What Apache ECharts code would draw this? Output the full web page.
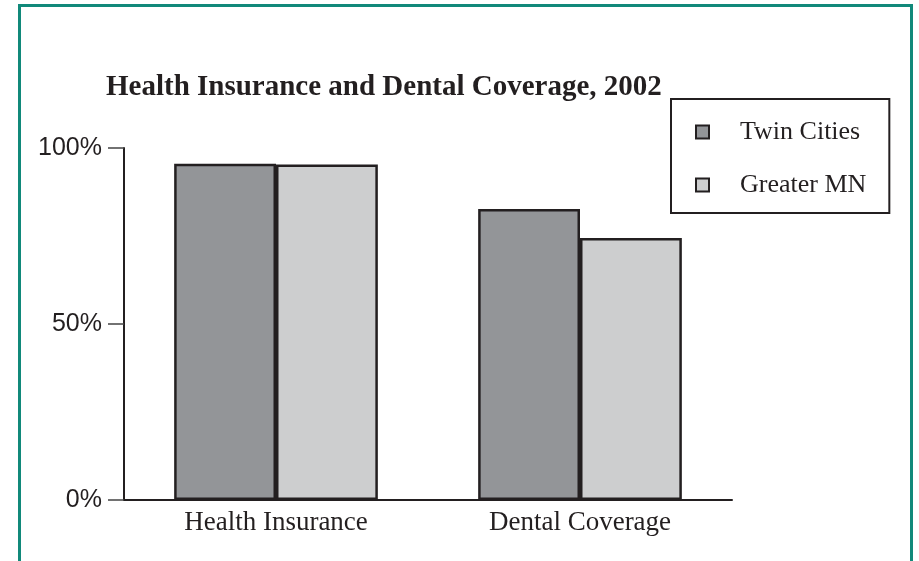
<!DOCTYPE html>
<html>
<head>
<meta charset="utf-8">
<script src="https://cdn.jsdelivr.net/npm/echarts@6/dist/echarts.min.js"></script>
<style>
  html, body { margin: 0; padding: 0; background: #fff; }
  #chart { width: 919px; height: 561px; }
</style>
</head>
<body>
<div id="chart"></div>
<script>
// values (percent)
const categories = ['Health Insurance', 'Dental Coverage']
const seriesNames = ['Twin Cities', 'Greater MN']
const twinCities = [95.5, 82.7]
const greaterMN = [95.3, 74.4]
const yTicks = [0, 50, 100]

const ink = '#231f20'
const serif = '"Liberation Serif", "DejaVu Serif", serif'
const sans = '"Liberation Sans", Arial, sans-serif'

const chart = echarts.init(document.getElementById('chart'))

chart.setOption({
  animation: false,
  backgroundColor: '#fff',
  // teal frame round the figure
  graphic: [{
    type: 'rect',
    shape: { x: 19.5, y: 5.5, width: 892, height: 620 },
    style: { fill: 'none', stroke: '#11897a', lineWidth: 3 },
    silent: true
  }],
  title: {
    text: 'Health Insurance and Dental Coverage, 2002',
    left: 106,
    top: 73,
    padding: 0,
    textStyle: {
      fontFamily: serif,
      fontWeight: 'bold',
      fontSize: 29,
      color: ink
    }
  },
  legend: {
    orient: 'vertical',
    left: 671,
    top: 99,
    padding: [20, 23, 15, 24],
    itemGap: 27,
    itemWidth: 13,
    itemHeight: 13,
    icon: 'rect',
    borderColor: ink,
    borderWidth: 2,
    itemStyle: { borderColor: ink, borderWidth: 2 },
    textStyle: {
      fontFamily: serif,
      fontSize: 26,
      color: ink,
      padding: [0, 0, 0, 26]
    },
    data: seriesNames
  },
  grid: {
    left: 124,
    right: 187,
    top: 148,
    bottom: 61,
    containLabel: false
  },
  xAxis: {
    type: 'category',
    data: categories,
    axisLine: { lineStyle: { color: ink, width: 2 } },
    axisTick: { show: false },
    axisLabel: {
      margin: 9,
      fontFamily: serif,
      fontSize: 27,
      color: ink
    }
  },
  yAxis: {
    type: 'value',
    min: yTicks[0],
    max: yTicks[yTicks.length - 1],
    interval: yTicks[1] - yTicks[0],
    splitLine: { show: false },
    axisLine: { show: true, lineStyle: { color: ink, width: 2 } },
    axisTick: { show: true, length: 16, lineStyle: { color: '#444', width: 1.5 } },
    axisLabel: {
      margin: 22,
      fontFamily: sans,
      fontSize: 25,
      color: ink,
      formatter: '{value}%'
    }
  },
  series: [{
    name: seriesNames[0],
    type: 'bar',
    data: twinCities,
    barGap: '0%',
    barCategoryGap: '33%',
    itemStyle: { color: '#939598', borderColor: ink, borderWidth: 2.5 }
  }, {
    name: seriesNames[1],
    type: 'bar',
    data: greaterMN,
    itemStyle: { color: '#cdcecf', borderColor: ink, borderWidth: 2.5 }
  }]
})
</script>
</body>
</html>
